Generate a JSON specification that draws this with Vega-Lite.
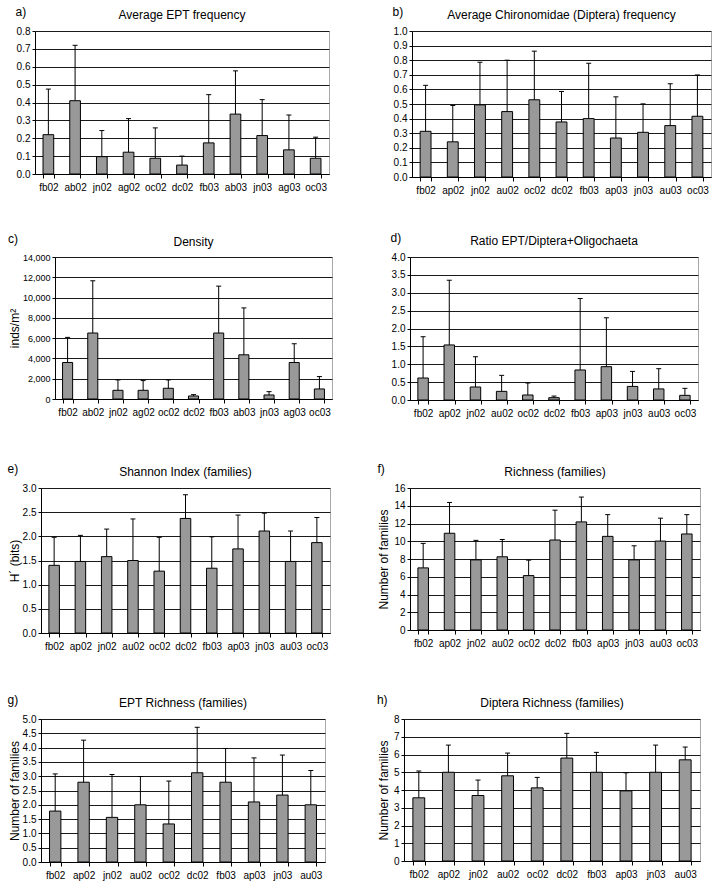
{
"$schema": "https://vega.github.io/schema/vega-lite/v6.json",
"padding": {"left": 5, "top": 5, "right": 5, "bottom": 5},
"background": "white",
"datasets": {
"a": [{"cat":"fb02","mean":0.22,"upper":0.475},{"cat":"ab02","mean":0.41,"upper":0.72},{"cat":"jn02","mean":0.097,"upper":0.243},{"cat":"ag02","mean":0.122,"upper":0.31},{"cat":"oc02","mean":0.088,"upper":0.258},{"cat":"dc02","mean":0.05,"upper":0.1},{"cat":"fb03","mean":0.174,"upper":0.444},{"cat":"ab03","mean":0.335,"upper":0.577},{"cat":"jn03","mean":0.215,"upper":0.416},{"cat":"ag03","mean":0.135,"upper":0.33},{"cat":"oc03","mean":0.088,"upper":0.206}],
"b": [{"cat":"fb02","mean":0.313,"upper":0.628},{"cat":"ap02","mean":0.241,"upper":0.49},{"cat":"jn02","mean":0.494,"upper":0.786},{"cat":"au02","mean":0.448,"upper":0.8},{"cat":"oc02","mean":0.529,"upper":0.862},{"cat":"dc02","mean":0.377,"upper":0.586},{"cat":"fb03","mean":0.4,"upper":0.779},{"cat":"ap03","mean":0.267,"upper":0.549},{"cat":"jn03","mean":0.306,"upper":0.501},{"cat":"au03","mean":0.352,"upper":0.639},{"cat":"oc03","mean":0.416,"upper":0.699}],
"c": [{"cat":"fb02","mean":3600,"upper":6075},{"cat":"ab02","mean":6505,"upper":11656},{"cat":"jn02","mean":858,"upper":1882},{"cat":"ag02","mean":858,"upper":1816},{"cat":"oc02","mean":1057,"upper":1882},{"cat":"dc02","mean":297,"upper":429},{"cat":"fb03","mean":6505,"upper":11127},{"cat":"ab03","mean":4358,"upper":8981},{"cat":"jn03","mean":396,"upper":726},{"cat":"ag03","mean":3600,"upper":5448},{"cat":"oc03","mean":990,"upper":2212}],
"d": [{"cat":"fb02","mean":0.615,"upper":1.77},{"cat":"ap02","mean":1.54,"upper":3.35},{"cat":"jn02","mean":0.364,"upper":1.21},{"cat":"au02","mean":0.242,"upper":0.69},{"cat":"oc02","mean":0.14,"upper":0.476},{"cat":"dc02","mean":0.065,"upper":0.11},{"cat":"fb03","mean":0.84,"upper":2.84},{"cat":"ap03","mean":0.932,"upper":2.3},{"cat":"jn03","mean":0.38,"upper":0.8},{"cat":"au03","mean":0.31,"upper":0.876},{"cat":"oc03","mean":0.13,"upper":0.326}],
"e": [{"cat":"fb02","mean":1.4,"upper":1.98},{"cat":"ap02","mean":1.48,"upper":2.02},{"cat":"jn02","mean":1.58,"upper":2.15},{"cat":"au02","mean":1.5,"upper":2.36},{"cat":"oc02","mean":1.28,"upper":1.98},{"cat":"dc02","mean":2.37,"upper":2.86},{"cat":"fb03","mean":1.34,"upper":1.99},{"cat":"ap03","mean":1.74,"upper":2.44},{"cat":"jn03","mean":2.11,"upper":2.48},{"cat":"au03","mean":1.48,"upper":2.11},{"cat":"oc03","mean":1.87,"upper":2.39}],
"f": [{"cat":"fb02","mean":7.0,"upper":9.76},{"cat":"ap02","mean":10.9,"upper":14.37},{"cat":"jn02","mean":7.9,"upper":10.1},{"cat":"au02","mean":8.25,"upper":10.2},{"cat":"oc02","mean":6.13,"upper":7.87},{"cat":"dc02","mean":10.14,"upper":13.5},{"cat":"fb03","mean":12.18,"upper":14.98},{"cat":"ap03","mean":10.55,"upper":13.0},{"cat":"jn03","mean":7.9,"upper":9.49},{"cat":"au03","mean":10.02,"upper":12.6},{"cat":"oc03","mean":10.82,"upper":13.0}],
"g": [{"cat":"fb02","mean":1.78,"upper":3.08},{"cat":"ap02","mean":2.79,"upper":4.26},{"cat":"jn02","mean":1.56,"upper":3.06},{"cat":"au02","mean":2.0,"upper":2.99},{"cat":"oc02","mean":1.33,"upper":2.83},{"cat":"dc02","mean":3.12,"upper":4.71},{"cat":"fb03","mean":2.79,"upper":3.97},{"cat":"ap03","mean":2.1,"upper":3.64},{"cat":"jn03","mean":2.34,"upper":3.74},{"cat":"au03","mean":2.0,"upper":3.2}],
"h": [{"cat":"fb02","mean":3.56,"upper":5.07},{"cat":"ap02","mean":5.0,"upper":6.53},{"cat":"jn02","mean":3.69,"upper":4.56},{"cat":"au02","mean":4.8,"upper":6.08},{"cat":"oc02","mean":4.12,"upper":4.71},{"cat":"dc02","mean":5.8,"upper":7.19},{"cat":"fb03","mean":5.0,"upper":6.12},{"cat":"ap03","mean":3.95,"upper":4.97},{"cat":"jn03","mean":5.0,"upper":6.53},{"cat":"au03","mean":5.7,"upper":6.42}]
},
"spacing": 35,
"vconcat": [
{"spacing": 0, "hconcat": [
 {"width": 9, "height": 10, "data": {"name": "a"}, "mark": {"type": "rule", "opacity": 0}, "encoding": {}, "view": {"stroke": null}},
 {"spacing": 62, "hconcat": [
 {"title": {"text": "\u00a0\u00a0\u00a0\u00a0\u00a0\u00a0\u00a0a)", "anchor": "start", "dy": 14},
  "vconcat": [{"title": "Average EPT frequency", "width": 294, "height": 143, "data": {"name": "a"},
   "encoding": {"x": {"field": "cat", "type": "nominal", "sort": null, "scale": {"paddingInner": 0.6, "paddingOuter": 0.3}, "axis": {"title": null}}},
   "layer": [
    {"mark": {"type": "bar", "fill": "#999999", "stroke": "black", "strokeWidth": 1}, "encoding": {"y": {"field": "mean", "type": "quantitative", "scale": {"domain": [0, 0.8], "nice": false}, "axis": {"title": null, "values": [0,0.1,0.2,0.3,0.4,0.5,0.6,0.7,0.8], "format": ".1f"}}}},
    {"mark": {"type": "rule", "color": "black", "strokeWidth": 1}, "encoding": {"y": {"field": "mean", "type": "quantitative", "axis": {"title": null, "values": [0,0.1,0.2,0.3,0.4,0.5,0.6,0.7,0.8], "format": ".1f"}}, "y2": {"field": "upper"}}},
    {"mark": {"type": "tick", "color": "black", "thickness": 1, "size": 5, "opacity": 1}, "encoding": {"y": {"field": "upper", "type": "quantitative", "axis": {"title": null, "values": [0,0.1,0.2,0.3,0.4,0.5,0.6,0.7,0.8], "format": ".1f"}}}}
   ]}]},
 {"title": {"text": "b)", "anchor": "start", "dy": 14},
  "vconcat": [{"title": "Average Chironomidae (Diptera) frequency", "width": 299, "height": 146, "data": {"name": "b"},
   "encoding": {"x": {"field": "cat", "type": "nominal", "sort": null, "scale": {"paddingInner": 0.6, "paddingOuter": 0.3}, "axis": {"title": null}}},
   "layer": [
    {"mark": {"type": "bar", "fill": "#999999", "stroke": "black", "strokeWidth": 1}, "encoding": {"y": {"field": "mean", "type": "quantitative", "scale": {"domain": [0, 1], "nice": false}, "axis": {"title": null, "values": [0,0.1,0.2,0.3,0.4,0.5,0.6,0.7,0.8,0.9,1.0], "format": ".1f"}}}},
    {"mark": {"type": "rule", "color": "black", "strokeWidth": 1}, "encoding": {"y": {"field": "mean", "type": "quantitative", "axis": {"title": null, "values": [0,0.1,0.2,0.3,0.4,0.5,0.6,0.7,0.8,0.9,1.0], "format": ".1f"}}, "y2": {"field": "upper"}}},
    {"mark": {"type": "tick", "color": "black", "thickness": 1, "size": 5, "opacity": 1}, "encoding": {"y": {"field": "upper", "type": "quantitative", "axis": {"title": null, "values": [0,0.1,0.2,0.3,0.4,0.5,0.6,0.7,0.8,0.9,1.0], "format": ".1f"}}}}
   ]}]}
 ]}
]},
{"spacing": 43, "vconcat": [
{"spacing": 0, "hconcat": [
 {"width": 1, "height": 10, "data": {"name": "c"}, "mark": {"type": "rule", "opacity": 0}, "encoding": {}, "view": {"stroke": null}},
 {"spacing": 57, "hconcat": [
 {"title": {"text": "\u00a0\u00a0\u00a0\u00a0\u00a0\u00a0\u00a0\u00a0\u00a0c)", "anchor": "start", "dy": 14},
  "vconcat": [{"title": "Density", "width": 277, "height": 142, "data": {"name": "c"},
   "encoding": {"x": {"field": "cat", "type": "nominal", "sort": null, "scale": {"paddingInner": 0.6, "paddingOuter": 0.3}, "axis": {"title": null}}},
   "layer": [
    {"mark": {"type": "bar", "fill": "#999999", "stroke": "black", "strokeWidth": 1}, "encoding": {"y": {"field": "mean", "type": "quantitative", "scale": {"domain": [0, 14000], "nice": false}, "axis": {"title": "inds/m²", "titlePadding": 1, "labelFontSize": 9, "values": [0,2000,4000,6000,8000,10000,12000,14000], "format": ",d"}}}},
    {"mark": {"type": "rule", "color": "black", "strokeWidth": 1}, "encoding": {"y": {"field": "mean", "type": "quantitative", "axis": {"title": "inds/m²", "titlePadding": 1, "labelFontSize": 9, "values": [0,2000,4000,6000,8000,10000,12000,14000], "format": ",d"}}, "y2": {"field": "upper"}}},
    {"mark": {"type": "tick", "color": "black", "thickness": 1, "size": 5, "opacity": 1}, "encoding": {"y": {"field": "upper", "type": "quantitative", "axis": {"title": "inds/m²", "titlePadding": 1, "labelFontSize": 9, "values": [0,2000,4000,6000,8000,10000,12000,14000], "format": ",d"}}}}
   ]}]},
 {"title": {"text": "d)", "anchor": "start", "dy": 14},
  "vconcat": [{"title": "Ratio EPT/Diptera+Oligochaeta", "width": 288, "height": 143, "data": {"name": "d"},
   "encoding": {"x": {"field": "cat", "type": "nominal", "sort": null, "scale": {"paddingInner": 0.6, "paddingOuter": 0.3}, "axis": {"title": null}}},
   "layer": [
    {"mark": {"type": "bar", "fill": "#999999", "stroke": "black", "strokeWidth": 1}, "encoding": {"y": {"field": "mean", "type": "quantitative", "scale": {"domain": [0, 4], "nice": false}, "axis": {"title": null, "values": [0,0.5,1,1.5,2,2.5,3,3.5,4], "format": ".1f"}}}},
    {"mark": {"type": "rule", "color": "black", "strokeWidth": 1}, "encoding": {"y": {"field": "mean", "type": "quantitative", "axis": {"title": null, "values": [0,0.5,1,1.5,2,2.5,3,3.5,4], "format": ".1f"}}, "y2": {"field": "upper"}}},
    {"mark": {"type": "tick", "color": "black", "thickness": 1, "size": 5, "opacity": 1}, "encoding": {"y": {"field": "upper", "type": "quantitative", "axis": {"title": null, "values": [0,0.5,1,1.5,2,2.5,3,3.5,4], "format": ".1f"}}}}
   ]}]}
 ]}
]},
{"spacing": 41, "vconcat": [
{"spacing": 0, "hconcat": [
 {"width": 1, "height": 10, "data": {"name": "e"}, "mark": {"type": "rule", "opacity": 0}, "encoding": {}, "view": {"stroke": null}},
 {"spacing": 46, "hconcat": [
 {"title": {"text": "\u00a0\u00a0\u00a0\u00a0\u00a0\u00a0\u00a0\u00a0e)", "anchor": "start", "dy": 14},
  "vconcat": [{"title": "Shannon Index (families)", "width": 289, "height": 145, "data": {"name": "e"},
   "encoding": {"x": {"field": "cat", "type": "nominal", "sort": null, "scale": {"paddingInner": 0.6, "paddingOuter": 0.3}, "axis": {"title": null}}},
   "layer": [
    {"mark": {"type": "bar", "fill": "#999999", "stroke": "black", "strokeWidth": 1}, "encoding": {"y": {"field": "mean", "type": "quantitative", "scale": {"domain": [0, 3], "nice": false}, "axis": {"title": "H´ (bits)", "titlePadding": 1, "values": [0,0.5,1,1.5,2,2.5,3], "format": ".1f"}}}},
    {"mark": {"type": "rule", "color": "black", "strokeWidth": 1}, "encoding": {"y": {"field": "mean", "type": "quantitative", "axis": {"title": "H´ (bits)", "titlePadding": 1, "values": [0,0.5,1,1.5,2,2.5,3], "format": ".1f"}}, "y2": {"field": "upper"}}},
    {"mark": {"type": "tick", "color": "black", "thickness": 1, "size": 5, "opacity": 1}, "encoding": {"y": {"field": "upper", "type": "quantitative", "axis": {"title": "H´ (bits)", "titlePadding": 1, "values": [0,0.5,1,1.5,2,2.5,3], "format": ".1f"}}}}
   ]}]},
 {"title": {"text": "\u00a0f)", "anchor": "start", "dy": 14},
  "vconcat": [{"title": "Richness (families)", "width": 290, "height": 142, "data": {"name": "f"},
   "encoding": {"x": {"field": "cat", "type": "nominal", "sort": null, "scale": {"paddingInner": 0.6, "paddingOuter": 0.3}, "axis": {"title": null}}},
   "layer": [
    {"mark": {"type": "bar", "fill": "#999999", "stroke": "black", "strokeWidth": 1}, "encoding": {"y": {"field": "mean", "type": "quantitative", "scale": {"domain": [0, 16], "nice": false}, "axis": {"title": "Number of families", "values": [0,2,4,6,8,10,12,14,16], "format": "d"}}}},
    {"mark": {"type": "rule", "color": "black", "strokeWidth": 1}, "encoding": {"y": {"field": "mean", "type": "quantitative", "axis": {"title": "Number of families", "values": [0,2,4,6,8,10,12,14,16], "format": "d"}}, "y2": {"field": "upper"}}},
    {"mark": {"type": "tick", "color": "black", "thickness": 1, "size": 5, "opacity": 1}, "encoding": {"y": {"field": "upper", "type": "quantitative", "axis": {"title": "Number of families", "values": [0,2,4,6,8,10,12,14,16], "format": "d"}}}}
   ]}]}
 ]}
]},
{"spacing": 0, "hconcat": [
 {"width": 1, "height": 10, "data": {"name": "g"}, "mark": {"type": "rule", "opacity": 0}, "encoding": {}, "view": {"stroke": null}},
 {"spacing": 50, "hconcat": [
 {"title": {"text": "\u00a0\u00a0\u00a0\u00a0\u00a0\u00a0\u00a0g)", "anchor": "start", "dy": 14},
  "vconcat": [{"title": "EPT Richness (families)", "width": 284, "height": 143, "data": {"name": "g"},
   "encoding": {"x": {"field": "cat", "type": "nominal", "sort": null, "scale": {"paddingInner": 0.6, "paddingOuter": 0.3}, "axis": {"title": null}}},
   "layer": [
    {"mark": {"type": "bar", "fill": "#999999", "stroke": "black", "strokeWidth": 1}, "encoding": {"y": {"field": "mean", "type": "quantitative", "scale": {"domain": [0, 5], "nice": false}, "axis": {"title": "Number of families", "titlePadding": 1, "values": [0,0.5,1,1.5,2,2.5,3,3.5,4,4.5,5], "format": ".1f"}}}},
    {"mark": {"type": "rule", "color": "black", "strokeWidth": 1}, "encoding": {"y": {"field": "mean", "type": "quantitative", "axis": {"title": "Number of families", "titlePadding": 1, "values": [0,0.5,1,1.5,2,2.5,3,3.5,4,4.5,5], "format": ".1f"}}, "y2": {"field": "upper"}}},
    {"mark": {"type": "tick", "color": "black", "thickness": 1, "size": 5, "opacity": 1}, "encoding": {"y": {"field": "upper", "type": "quantitative", "axis": {"title": "Number of families", "titlePadding": 1, "values": [0,0.5,1,1.5,2,2.5,3,3.5,4,4.5,5], "format": ".1f"}}}}
   ]}]},
 {"title": {"text": "\u00a0h)", "anchor": "start", "dy": 14},
  "vconcat": [{"title": "Diptera Richness (families)", "width": 296, "height": 142, "data": {"name": "h"},
   "encoding": {"x": {"field": "cat", "type": "nominal", "sort": null, "scale": {"paddingInner": 0.6, "paddingOuter": 0.3}, "axis": {"title": null}}},
   "layer": [
    {"mark": {"type": "bar", "fill": "#999999", "stroke": "black", "strokeWidth": 1}, "encoding": {"y": {"field": "mean", "type": "quantitative", "scale": {"domain": [0, 8], "nice": false}, "axis": {"title": "Number of families", "values": [0,1,2,3,4,5,6,7,8], "format": "d"}}}},
    {"mark": {"type": "rule", "color": "black", "strokeWidth": 1}, "encoding": {"y": {"field": "mean", "type": "quantitative", "axis": {"title": "Number of families", "values": [0,1,2,3,4,5,6,7,8], "format": "d"}}, "y2": {"field": "upper"}}},
    {"mark": {"type": "tick", "color": "black", "thickness": 1, "size": 5, "opacity": 1}, "encoding": {"y": {"field": "upper", "type": "quantitative", "axis": {"title": "Number of families", "values": [0,1,2,3,4,5,6,7,8], "format": "d"}}}}
   ]}]}
 ]}
]}
]}
]}
],
"config": {
 "font": "Liberation Sans",
 "view": {"stroke": "#a8a8a8", "strokeWidth": 1},
 "title": {"fontSize": 12, "fontWeight": "normal", "color": "black", "offset": 4},
 "axis": {"domainColor": "black", "tickColor": "black", "labelColor": "black", "labelFontSize": 10, "titleFontSize": 12, "titleFontWeight": "normal", "titleColor": "black", "tickSize": 3, "labelPadding": 2, "gridColor": "#1a1a1a", "gridOpacity": 1, "gridWidth": 1},
 "axisX": {"grid": false, "tickBand": "extent", "labelAngle": 0, "labelPadding": 4, "tickSize": 4},
 "axisY": {"grid": true, "titlePadding": 3, "minExtent": 0}
}
}
